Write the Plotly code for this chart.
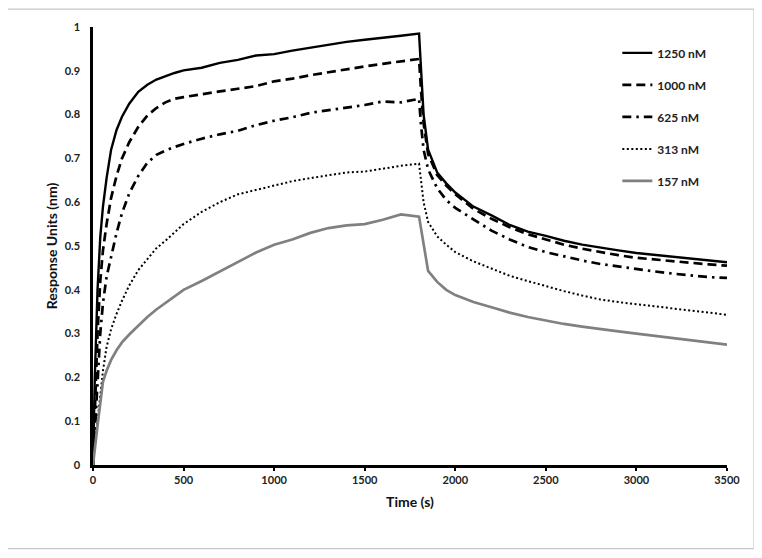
import plotly.graph_objects as go

time_s = [0, 10, 25, 40, 55, 75, 100, 130, 160, 200, 250, 300, 350, 400, 450, 500,
          600, 700, 800, 900, 1000, 1100, 1200, 1300, 1400, 1500, 1600, 1700, 1800,
          1810, 1825, 1850, 1900, 1950, 2000, 2100, 2200, 2300, 2400, 2500, 2600,
          2700, 2800, 2900, 3000, 3100, 3200, 3300, 3400, 3500]

ru_1250 = [0, 0.20, 0.40, 0.52, 0.59, 0.655, 0.72, 0.765, 0.795, 0.825, 0.852, 0.868, 0.880,
           0.888, 0.895, 0.901, 0.907, 0.918, 0.925, 0.935, 0.938, 0.946, 0.953, 0.960,
           0.966, 0.971, 0.975, 0.980, 0.985,
           0.90, 0.80, 0.72, 0.668, 0.643, 0.622, 0.59, 0.57, 0.548, 0.533, 0.523, 0.512,
           0.503, 0.496, 0.490, 0.484, 0.480, 0.476, 0.471, 0.467, 0.463]

ru_1000 = [0, 0.13, 0.30, 0.42, 0.49, 0.55, 0.61, 0.66, 0.70, 0.737, 0.772, 0.798, 0.815,
           0.828, 0.836, 0.840, 0.847, 0.853, 0.859, 0.865, 0.876, 0.882, 0.890, 0.897,
           0.904, 0.910, 0.916, 0.921, 0.927,
           0.86, 0.78, 0.71, 0.662, 0.638, 0.618, 0.585, 0.562, 0.543, 0.527, 0.515, 0.503,
           0.494, 0.486, 0.479, 0.473, 0.469, 0.465, 0.461, 0.458, 0.455]

ru_625 = [0, 0.08, 0.20, 0.30, 0.37, 0.43, 0.475, 0.53, 0.575, 0.62, 0.66, 0.69, 0.708,
          0.718, 0.726, 0.733, 0.745, 0.755, 0.763, 0.776, 0.786, 0.794, 0.804, 0.810,
          0.817, 0.822, 0.830, 0.828, 0.836,
          0.78, 0.72, 0.675, 0.632, 0.605, 0.587, 0.56, 0.535, 0.515, 0.498, 0.486, 0.476,
          0.467, 0.459, 0.453, 0.447, 0.442, 0.437, 0.433, 0.429, 0.427]

ru_313 = [0, 0.05, 0.10, 0.16, 0.215, 0.27, 0.31, 0.345, 0.375, 0.41, 0.445, 0.47, 0.495,
          0.512, 0.532, 0.55, 0.578, 0.600, 0.618, 0.628, 0.638, 0.648, 0.655, 0.662,
          0.668, 0.670, 0.677, 0.683, 0.688,
          0.65, 0.60, 0.555, 0.522, 0.503, 0.486, 0.465, 0.449, 0.432, 0.420, 0.408, 0.397,
          0.387, 0.378, 0.372, 0.367, 0.362, 0.358, 0.352, 0.347, 0.343]

ru_157 = [0, 0.04, 0.09, 0.14, 0.19, 0.215, 0.24, 0.262, 0.28, 0.298, 0.318, 0.338, 0.355,
          0.37, 0.387, 0.40, 0.42, 0.442, 0.463, 0.485, 0.503, 0.515, 0.53, 0.541,
          0.547, 0.550, 0.560, 0.572, 0.567,
          0.54, 0.50, 0.443, 0.418, 0.40, 0.388, 0.372, 0.36, 0.348, 0.338, 0.33, 0.322,
          0.316, 0.31, 0.305, 0.30, 0.295, 0.29, 0.285, 0.28, 0.275]

labels = ["1250 nM", "1000 nM", "625 nM", "313 nM", "157 nM"]
series = [ru_1250, ru_1000, ru_625, ru_313, ru_157]
styles = [
    dict(color="black", width=2.4, dash="solid"),
    dict(color="black", width=2.7, dash="9px,5px"),
    dict(color="black", width=2.7, dash="9px,5px,2.5px,5px"),
    dict(color="black", width=2.0, dash="2px,2.5px"),
    dict(color="#808080", width=2.7, dash="solid"),
]

fig = go.Figure()
for i, (lab, ys, st) in enumerate(zip(labels, series, styles)):
    fig.add_trace(go.Scatter(x=time_s, y=ys, mode="lines", name=lab, line=st,
                             legendgroup=str(i)))

font_fam = "Lato, 'Open Sans', sans-serif"
fig.update_layout(
    width=754, height=550,
    margin=dict(l=85, r=35, t=17, b=93),
    paper_bgcolor="white", plot_bgcolor="white",
    font=dict(family=font_fam, color="#222", size=11),
    showlegend=True,
    legend=dict(x=0.827, y=0.974, xanchor="left", yanchor="top",
                font=dict(size=12, family=font_fam, color="#222", weight="bold"),
                tracegroupgap=13, itemwidth=30, bgcolor="rgba(0,0,0,0)"),
    xaxis=dict(range=[0, 3500], tickvals=[0, 500, 1000, 1500, 2000, 2500, 3000, 3500],
               showgrid=False, zeroline=False, showline=True, linecolor="black",
               linewidth=2.5, ticks="outside", ticklen=3, tickwidth=2, tickcolor="black",
               tickfont=dict(size=11, weight="bold", color="#222"),
               title=dict(text="Time (s)", font=dict(size=14, weight="bold", color="#111"),
                          standoff=13)),
    yaxis=dict(range=[0, 1], tickvals=[0, 0.1, 0.2, 0.3, 0.4, 0.5, 0.6, 0.7, 0.8, 0.9, 1],
               ticktext=["0", "0.1", "0.2", "0.3", "0.4", "0.5", "0.6", "0.7", "0.8", "0.9", "1"],
               showgrid=False, zeroline=False, showline=True, linecolor="black",
               linewidth=2.5, ticks="", ticklabelstandoff=8,
               tickfont=dict(size=11, weight="bold", color="#222"),
               title=dict(text="Response Units (nm)", font=dict(size=14, weight="bold", color="#111"),
                          standoff=4)),
    shapes=[dict(type="rect", xref="paper", yref="paper",
                 x0=-0.1356, x1=1.0426, y0=-0.191, y1=1.041,
                 line=dict(color="#c8c8c8", width=1.2), fillcolor="rgba(0,0,0,0)",
                 layer="below")],
)

fig.write_html("out.html")
